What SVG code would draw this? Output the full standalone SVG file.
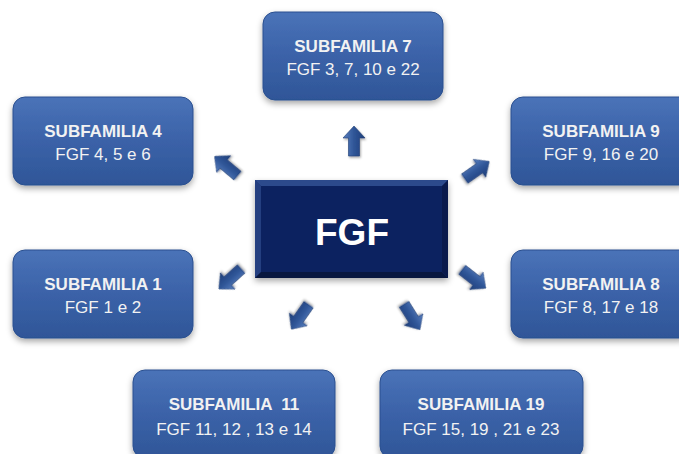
<svg xmlns="http://www.w3.org/2000/svg" width="679" height="454" viewBox="0 0 679 454">
<defs>
<linearGradient id="boxg" x1="0" y1="0" x2="0" y2="1">
<stop offset="0" stop-color="#4a73b8"/>
<stop offset="0.5" stop-color="#3b62a8"/>
<stop offset="1" stop-color="#2f5698"/>
</linearGradient>
<linearGradient id="arrg" x1="0" y1="0" x2="1" y2="0">
<stop offset="0" stop-color="#5a80c0"/>
<stop offset="0.5" stop-color="#2f5597"/>
<stop offset="1" stop-color="#1f3f7a"/>
</linearGradient>
<filter id="sh" x="-20%" y="-20%" width="140%" height="150%">
<feDropShadow dx="0" dy="3" stdDeviation="3" flood-color="#000" flood-opacity="0.35"/>
</filter>
<filter id="ash" x="-50%" y="-50%" width="200%" height="200%">
<feDropShadow dx="1" dy="1.5" stdDeviation="1.2" flood-color="#000" flood-opacity="0.35"/>
</filter>
<path id="arr" d="M0,-15 L11,-3 L5.5,-3 L5.5,15 L-5.5,15 L-5.5,-3 L-11,-3 Z"/>
</defs>
<style>
.box{fill:url(#boxg);stroke:#2a4f8f;stroke-width:1;filter:url(#sh)}
.t1{font-family:"Liberation Sans",Arial,sans-serif;font-weight:bold;font-size:17px;fill:#f2f2f2;text-anchor:middle}
.t2{font-family:"Liberation Sans",Arial,sans-serif;font-size:17px;fill:#f2f2f2;text-anchor:middle}
.a{fill:url(#arrg);stroke:#1e3c74;stroke-width:0.6;filter:url(#ash)}
</style>
<rect width="679" height="454" fill="#ffffff"/>

<g id="fgf">
<rect x="255" y="180" width="193" height="98" fill="#1a3576" filter="url(#sh)"/>
<polygon points="255,180 448,180 442,186 261,186" fill="#2c4a8c"/>
<polygon points="255,180 261,186 261,272 255,278" fill="#243f80"/>
<polygon points="448,180 448,278 442,272 442,186" fill="#0a1a4c"/>
<polygon points="255,278 448,278 442,272 261,272" fill="#08173f"/>
<rect x="261" y="186" width="181" height="86" fill="#0c2260"/>
<text x="352" y="245" font-family="Liberation Sans,Arial,sans-serif" font-weight="bold" font-size="37" fill="#ffffff" text-anchor="middle">FGF</text>
</g>

<g id="sub7">
<rect class="box" x="263" y="12" width="180" height="88" rx="12"/>
<text class="t1" x="353" y="52">SUBFAMILIA 7</text>
<text class="t2" x="353" y="75">FGF 3, 7, 10 e 22</text>
</g>
<g id="sub4">
<rect class="box" x="13" y="97" width="180" height="88" rx="12"/>
<text class="t1" x="103" y="137">SUBFAMILIA 4</text>
<text class="t2" x="103" y="160">FGF 4, 5 e 6</text>
</g>
<g id="sub9">
<rect class="box" x="511" y="97" width="180" height="88" rx="12"/>
<text class="t1" x="601" y="137">SUBFAMILIA 9</text>
<text class="t2" x="601" y="160">FGF 9, 16 e 20</text>
</g>
<g id="sub1">
<rect class="box" x="13" y="250" width="180" height="88" rx="12"/>
<text class="t1" x="103" y="290">SUBFAMILIA 1</text>
<text class="t2" x="103" y="313">FGF 1 e 2</text>
</g>
<g id="sub8">
<rect class="box" x="511" y="250" width="180" height="88" rx="12"/>
<text class="t1" x="601" y="290">SUBFAMILIA 8</text>
<text class="t2" x="601" y="313">FGF 8, 17 e 18</text>
</g>
<g id="sub11">
<rect class="box" x="133" y="370" width="202" height="88" rx="12"/>
<text class="t1" x="234" y="410" xml:space="preserve">SUBFAMILIA  11</text>
<text class="t2" x="234" y="435">FGF 11, 12 , 13 e 14</text>
</g>
<g id="sub19">
<rect class="box" x="380" y="370" width="203" height="88" rx="12"/>
<text class="t1" x="481" y="410">SUBFAMILIA 19</text>
<text class="t2" x="481" y="435">FGF 15, 19 , 21 e 23</text>
</g>

<g id="connectors">
<use href="#arr" class="a" transform="translate(354,141) rotate(0)"/>
<use href="#arr" class="a" transform="translate(477,170) rotate(55)"/>
<use href="#arr" class="a" transform="translate(474,279) rotate(128)"/>
<use href="#arr" class="a" transform="translate(226,166) rotate(-50)"/>
<use href="#arr" class="a" transform="translate(230,279) rotate(-132)"/>
<use href="#arr" class="a" transform="translate(300,317) rotate(-145)"/>
<use href="#arr" class="a" transform="translate(412,317) rotate(148)"/>
</g>
</svg>
